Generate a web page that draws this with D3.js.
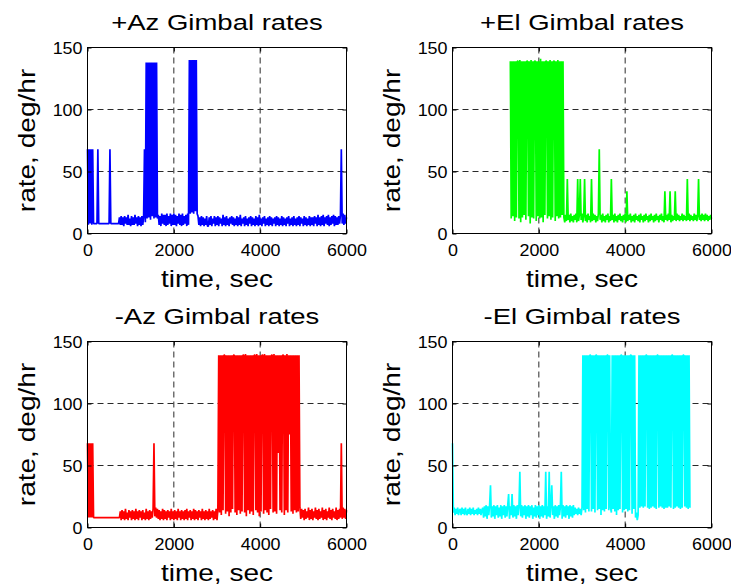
<!DOCTYPE html>
<html>
<head>
<meta charset="utf-8">
<script src="https://cdn.jsdelivr.net/npm/d3@7"></script>
<style>
  body { margin: 0; background: #fff; }
  svg { display: block; }
  text { font-family: "Liberation Sans", Arial, Helvetica, sans-serif; fill: #000; }
</style>
</head>
<body>
<script>
// Gimbal rate telemetry, one sample every STEP seconds starting at t = 0.
const STEP = 20;
const xTicks = [0, 2000, 4000, 6000];
const yTicks = [0, 50, 100, 150];
const titles = ["+Az Gimbal rates", "+El Gimbal rates", "-Az Gimbal rates", "-El Gimbal rates"];
const xLabel = "time, sec";
const yLabel = "rate, deg/hr";

// rate, deg/hr
const azPlus = [
  68,7,68,8,68,7,68,8,8,8,
  8,8,68,8,8,8,8,8,8,8,
  8,8,8,8,8,8,68,8,8,8,
  8,8,8,8,8,8,8,13,7,14,
  7,13,6,14,8,13,7,15,7,12,
  6,14,7,13,7,15,8,13,6,14,
  7,13,6,14,7,13,68,9,138,12,
  138,13,138,11,138,14,138,12,138,13,
  138,12,15,7,14,6,16,8,15,7,
  15,6,16,7,14,8,16,6,15,7,
  16,7,15,6,14,8,16,7,15,6,
  16,7,14,8,15,6,16,7,140,16,
  140,17,140,16,140,18,140,16,14,7,
  13,6,14,7,13,6,12,7,14,6,
  6,13,7,14,6,12,8,14,6,13,
  7,14,6,13,8,12,6,15,7,13,
  6,14,7,12,6,13,8,14,7,13,
  6,12,7,14,6,13,7,15,6,12,
  8,13,6,14,7,12,6,13,8,14,
  6,13,7,12,6,14,7,13,6,15,
  7,12,6,13,8,14,6,12,7,13,
  6,14,7,13,6,12,8,13,6,14,
  7,13,6,12,7,14,6,13,7,12,
  6,13,8,14,6,12,7,13,6,14,
  7,12,6,13,7,14,6,13,8,12,
  6,14,7,13,6,12,7,14,6,13,
  7,13,6,14,8,13,6,15,7,13,
  6,14,7,15,6,13,8,14,7,15,
  6,13,7,14,8,15,6,14,7,13,
  7,14,8,15,68,8,16,7,15,8,
  13
];

const elPlus = [
  null,null,null,null,null,null,null,null,null,null,
  null,null,null,null,null,null,null,null,null,null,
  null,null,null,null,null,null,null,null,null,null,
  null,null,null,null,null,null,null,null,null,null,
  null,null,null,null,null,null,null,null,null,null,
  null,null,null,null,null,null,null,null,null,null,
  null,null,null,null,null,null,null,139,12,139,
  14,139,10,139,13,139,139,12,140,9,
  139,13,139,15,139,11,139,139,14,139,
  8,140,13,139,12,139,139,10,139,14,
  139,12,141,13,139,9,139,15,139,139,
  12,139,14,140,11,139,13,139,139,10,
  139,14,140,12,139,13,139,15,139,13,
  9,15,10,44,11,15,9,16,10,14,
  9,15,11,16,9,44,10,15,44,11,
  16,9,14,44,10,15,9,16,11,14,
  9,44,10,16,11,15,9,14,10,16,
  68,11,15,9,16,10,14,9,15,11,
  16,9,14,10,44,11,15,9,16,10,
  14,9,15,11,16,10,14,9,15,11,
  16,9,34,10,15,11,16,9,14,10,
  15,9,16,11,14,10,15,9,16,11,
  14,9,15,10,16,11,14,9,15,10,
  16,11,14,9,15,10,16,11,14,9,
  15,11,16,10,14,9,34,11,15,10,
  16,11,34,9,15,10,14,11,34,10,
  16,11,15,10,14,11,16,10,15,11,
  14,10,44,11,16,10,15,11,14,10,
  16,11,15,10,14,44,11,15,10,16,
  11,15,10,16,11,15,10,14,11,15,
  12
];

const azMinus = [
  68,8,68,8,68,8,68,8,8,8,
  8,8,8,8,8,8,8,8,8,8,
  8,8,8,8,8,8,8,8,8,8,
  8,8,8,8,8,8,8,8,13,6,
  14,7,13,6,15,7,12,6,14,8,
  13,6,14,7,13,6,15,7,13,6,
  14,8,13,6,14,7,12,6,15,7,
  13,6,14,7,13,8,15,68,9,16,
  8,15,7,14,6,13,7,15,6,14,
  7,13,6,14,8,13,6,15,7,13,
  6,14,7,13,6,15,8,13,6,14,
  7,13,6,14,7,15,6,13,8,14,
  6,13,7,15,6,14,7,13,6,14,
  8,13,6,15,7,13,6,14,7,13,
  6,15,7,13,8,14,6,13,7,15,
  6,14,139,12,139,10,139,14,139,139,
  11,139,13,139,9,139,12,139,15,139,
  139,12,139,10,139,14,139,11,139,13,
  139,139,12,140,9,139,14,139,11,139,
  13,139,10,139,139,14,140,12,139,9,
  139,13,139,139,11,140,14,139,12,139,
  10,139,15,139,139,12,140,13,139,11,
  139,60,139,14,139,12,139,139,10,139,
  14,140,12,139,75,139,13,139,11,139,
  14,139,12,139,13,139,16,7,15,8,
  14,6,15,7,13,8,16,6,14,7,
  15,6,13,8,16,7,14,6,15,7,
  13,8,16,6,14,7,15,6,13,8,
  16,7,14,6,15,8,13,7,16,6,
  14,7,15,8,68,7,16,8,15,7,
  14
];

const elMinus = [
  68,12,16,10,15,11,16,10,14,15,
  10,16,11,15,10,16,12,10,15,11,
  16,10,15,11,16,10,14,11,15,10,
  16,11,15,10,14,16,8,17,9,18,
  7,17,10,18,34,8,17,9,18,7,
  17,10,18,8,16,9,18,7,17,10,
  18,8,17,9,18,27,7,17,10,27,
  8,18,9,17,7,18,10,17,45,9,
  18,8,17,10,18,7,17,9,18,8,
  17,10,18,7,16,9,18,8,17,10,
  18,7,17,9,18,8,17,10,45,7,
  17,9,45,8,18,34,10,17,7,18,
  9,17,8,18,10,17,45,7,18,9,
  17,8,18,10,17,7,18,9,17,8,
  18,10,16,11,15,10,16,11,15,10,
  16,139,14,139,12,139,15,139,13,139,
  139,13,139,15,139,12,139,139,14,139,
  15,139,10,139,14,139,13,139,15,139,
  139,14,139,16,12,139,15,139,13,139,
  10,139,14,139,15,139,139,12,139,14,
  139,15,139,13,139,14,139,139,11,139,
  15,139,8,12,6,10,139,16,139,17,
  139,16,139,17,139,139,16,139,15,139,
  16,139,17,139,16,139,15,139,139,16,
  139,17,139,16,139,15,139,16,139,16,
  139,17,139,16,139,139,15,139,16,139,
  17,139,16,139,15,139,16,139,139,17,
  139,16,139,15,139,16,null,null,null,null,
  null,null,null,null,null,null,null,null,null,null,
  null,null,null,null,null,null,null,null,null,null,
  null
];

const seriesList = [azPlus, elPlus, azMinus, elMinus];
const colors = ["#0000ff", "#00ff00", "#ff0000", "#00ffff"];

// Figure layout (2 x 2 subplots)
const W = 731, H = 588;
const PW = 259, PH = 186;
const origins = [[87.5, 47.5], [452.5, 47.5], [87.5, 341.5], [452.5, 341.5]];
const FONT = { title: 22, tick: 16, label: 23 };
const STRETCH = { title: 1.25, tick: 1.12, label: 1.22 };

const svg = d3.select("body").append("svg")
  .attr("width", W).attr("height", H)
  .attr("viewBox", `0 0 ${W} ${H}`);

seriesList.forEach((values, k) => {
  const [L, T] = origins[k];
  const x = d3.scaleLinear().domain([0, 6000]).range([L, L + PW]);
  const y = d3.scaleLinear().domain([0, 150]).range([T + PH, T]);
  const g = svg.append("g").attr("class", "panel");

  // dashed grid
  g.append("g").selectAll("line").data(xTicks.slice(1, -1)).join("line")
    .attr("x1", d => x(d)).attr("x2", d => x(d))
    .attr("y1", T).attr("y2", T + PH)
    .attr("stroke", "#2a2a2a").attr("stroke-width", 1).attr("stroke-dasharray", "6,4");
  g.append("g").selectAll("line").data(yTicks.slice(1)).join("line")
    .attr("x1", L).attr("x2", L + PW)
    .attr("y1", d => y(d)).attr("y2", d => y(d))
    .attr("stroke", "#2a2a2a").attr("stroke-width", 1).attr("stroke-dasharray", "6,4");

  // rate trace
  const line = d3.line()
    .defined(d => d != null)
    .x((d, i) => x(i * STEP))
    .y(d => y(d));
  g.append("path").datum(values)
    .attr("d", line)
    .attr("fill", "none")
    .attr("stroke", colors[k])
    .attr("stroke-width", 1.7)
    .attr("stroke-linejoin", "bevel");

  // inward ticks on all four sides
  const fmt = d3.format("d");
  const ax = [
    g.append("g").attr("transform", `translate(0,${T + PH})`).call(d3.axisBottom(x).tickValues(xTicks).tickSize(-4).tickFormat(fmt)),
    g.append("g").attr("transform", `translate(0,${T})`).call(d3.axisTop(x).tickValues(xTicks).tickSize(-4).tickFormat("")),
    g.append("g").attr("transform", `translate(${L},0)`).call(d3.axisLeft(y).tickValues(yTicks).tickSize(-4).tickFormat(fmt)),
    g.append("g").attr("transform", `translate(${L + PW},0)`).call(d3.axisRight(y).tickValues(yTicks).tickSize(-4).tickFormat(""))
  ];
  ax.forEach(a => {
    a.select(".domain").remove();
    a.selectAll(".tick line").attr("stroke", "#000");
    a.attr("font-family", null).attr("font-size", null);
  });
  ax[0].selectAll(".tick text")
    .attr("y", 23).attr("dy", null)
    .attr("font-size", FONT.tick)
    .attr("transform", `scale(${STRETCH.tick},1)`)
    .attr("fill", "#000");
  ax[2].selectAll(".tick text")
    .attr("x", 0).attr("dy", null)
    .attr("font-size", FONT.tick)
    .attr("text-anchor", "end")
    .attr("transform", `translate(-5,6) scale(${STRETCH.tick},1)`)
    .attr("fill", "#000");

  // axes box
  g.append("rect")
    .attr("x", L).attr("y", T).attr("width", PW).attr("height", PH)
    .attr("fill", "none").attr("stroke", "#000").attr("stroke-width", 1);

  const cx = L + PW / 2, cy = T + PH / 2;
  g.append("text")
    .attr("transform", `translate(${cx},${T - 17.5}) scale(${STRETCH.title},1)`)
    .attr("text-anchor", "middle").attr("font-size", FONT.title)
    .text(titles[k]);
  g.append("text")
    .attr("transform", `translate(${cx},${T + PH + 53}) scale(${STRETCH.label},1)`)
    .attr("text-anchor", "middle").attr("font-size", FONT.label)
    .text(xLabel);
  g.append("text")
    .attr("transform", `translate(${L - 53},${cy}) rotate(-90) scale(${STRETCH.label},1)`)
    .attr("text-anchor", "middle").attr("font-size", FONT.label)
    .text(yLabel);
});
</script>
</body>
</html>
